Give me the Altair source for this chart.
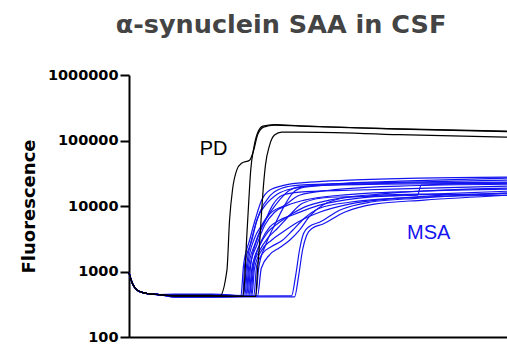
import altair as alt
import pandas as pd

# shared early decay (time, fluorescence)
base_t = [0, 0.5, 1, 2, 3, 5, 8]
base_f = [950, 760, 640, 530, 490, 460, 445]
# per-curve flat baseline level (read at t = 12..22)
pd_base = [432, 425, 420]
msa_base = [440, 425, 410, 445, 430, 415, 450, 420, 435, 405, 440, 425, 415, 445, 420, 410]
flat_t = [12, 22]

# PD curves (time, fluorescence) after baseline
pd_t = [
    [24.0, 25.9, 26.6, 27.4, 28.5, 29.8, 31.9, 33.0, 34.0, 35.6, 38.5, 45.1, 71.5, 100],
    [30.1, 30.6, 31.1, 31.7, 32.2, 33.0, 34.0, 35.4, 38.5, 45.1, 71.5, 100],
    [33.5, 34.0, 34.6, 35.1, 35.5, 36.1, 37.2, 38.5, 40.4, 45.1, 71.5, 100],
]
pd_f = [
    [420, 1040, 6060, 18000, 35300, 45100, 50100, 71300, 121000, 160300, 172000, 166000, 149300, 136800],
    [420, 733, 3000, 12300, 35300, 76500, 129800, 166000, 175000, 168000, 151000, 139000],
    [415, 1040, 3000, 8620, 18100, 42000, 85100, 121000, 134400, 134400, 123000, 112800],
]

# MSA curves
msa_t = [
    [29.6, 30.3, 31.9, 33.5, 35.1, 37.2, 41.2, 47.8, 58.3, 76.8, 100],
    [30.1, 30.6, 32.5, 34.0, 36.1, 39.3, 43.8, 53.0, 71.5, 100],
    [30.3, 31.1, 32.7, 34.6, 37.2, 40.4, 45.1, 60.9, 100],
    [30.6, 31.4, 33.2, 35.1, 37.2, 39.8, 42.5, 46.4, 66.2, 100],
    [30.9, 31.7, 33.2, 35.1, 37.2, 41.2, 45.1, 53.0, 71.5, 100],
    [31.1, 31.9, 33.8, 35.9, 38.5, 42.0, 46.4, 55.7, 76.8, 100],
    [31.4, 32.2, 34.0, 36.1, 38.0, 40.6, 45.1, 58.3, 79.4, 100],
    [31.7, 32.5, 34.6, 36.7, 39.8, 42.5, 46.4, 53.0, 66.2, 100],
    [31.9, 32.7, 34.6, 36.7, 39.3, 42.5, 45.9, 53.0, 76.3, 77.3, 100],
    [32.2, 33.0, 35.1, 37.2, 39.8, 43.8, 50.4, 60.9, 80.0, 100],
    [32.5, 33.2, 35.1, 37.7, 40.6, 44.6, 50.4, 58.3, 71.5, 100],
    [33.0, 33.8, 35.4, 37.7, 40.6, 43.3, 46.4, 50.4, 58.3, 71.5, 100],
    [33.5, 34.3, 36.1, 38.5, 41.2, 43.3, 46.4, 58.3, 100],
    [34.0, 35.0, 37.2, 39.8, 42.5, 45.1, 47.8, 51.2, 58.3, 76.8, 100],
    [43.0, 44.1, 45.1, 46.2, 47.8, 50.4, 55.7, 63.6, 76.8, 100],
    [43.8, 44.9, 45.9, 47.0, 48.5, 51.2, 57.0, 64.9, 78.1, 100],
]
msa_f = [
    [420, 1240, 3000, 6510, 12300, 17400, 20800, 23100, 24800, 26600, 27500],
    [420, 1240, 3000, 6510, 10300, 15200, 18700, 21500, 23900, 26600],
    [420, 1240, 3580, 8040, 14100, 18700, 20800, 22300, 24800],
    [420, 1240, 3220, 5090, 7760, 12300, 17400, 20100, 21500, 22300],
    [420, 1240, 2520, 4740, 7490, 10300, 14600, 17400, 20100, 21500],
    [420, 1120, 2520, 5090, 8040, 10300, 12300, 14600, 16800, 18100],
    [420, 1240, 3220, 6060, 10300, 14600, 16300, 17400, 18700, 20100],
    [420, 1120, 2520, 3980, 5650, 7230, 9600, 12300, 15200, 18700],
    [420, 1120, 2110, 3220, 4580, 7230, 11000, 13600, 14600, 20800, 22300],
    [420, 1240, 3000, 4740, 6060, 7490, 10300, 13200, 15200, 16800],
    [420, 1120, 2110, 3000, 3980, 5650, 8040, 10700, 13200, 15700],
    [420, 1240, 1900, 2400, 3000, 4270, 6510, 9250, 11400, 13200, 14600],
    [420, 1120, 2520, 5090, 10300, 15700, 19400, 21500, 23100],
    [420, 1120, 1800, 2300, 3000, 4270, 7000, 10300, 13600, 15200, 14600],
    [425, 875, 2110, 3840, 4910, 5650, 8620, 11400, 13200, 15700],
    [410, 875, 2110, 3580, 4580, 5270, 8040, 10700, 12300, 14600],
]

label_text = ["PD", "MSA"]
label_t = [22.4, 79.3]
label_f = [73900, 3910]
label_color = ["#000000", "#1414f0"]

y_ticks = [100, 1000, 10000, 100000, 1000000]

rows = []
for group, ts, fs, bl in (("PD", pd_t, pd_f, pd_base), ("MSA", msa_t, msa_f, msa_base)):
    for i, (t, f) in enumerate(zip(ts, fs)):
        xs = base_t + flat_t + t
        ys = base_f + [bl[i], bl[i]] + f
        for tt, ff in zip(xs, ys):
            rows.append({"group": group, "curve": f"{group}{i}", "t": tt, "f": ff})
df = pd.DataFrame(rows)
labels = pd.DataFrame({"text": label_text, "t": label_t, "f": label_f, "color": label_color})

x_enc = alt.X("t:Q", scale=alt.Scale(domain=[0, 100], nice=False),
              axis=alt.Axis(labels=False, ticks=False, title=None, grid=False,
                            domainWidth=2, domainColor="black"))
y_enc = alt.Y("f:Q", scale=alt.Scale(type="log", domain=[100, 1000000], nice=False),
              axis=alt.Axis(values=y_ticks, format="d", grid=False, title="Fluorescence",
                            domainWidth=2, domainColor="black", tickColor="black",
                            tickWidth=2, tickSize=9,
                            labelFont="DejaVu Sans", labelFontWeight="bold",
                            labelFontSize=14.5, labelColor="black", labelPadding=2,
                            titleFont="DejaVu Sans", titleFontWeight="bold",
                            titleFontSize=18, titleColor="black", titlePadding=9))

msa = alt.Chart(df[df.group == "MSA"]).mark_line(
    color="#1414f0", strokeWidth=1.2, interpolate="monotone"
).encode(x=x_enc, y=y_enc, detail="curve:N", order="t:Q")

pdl = alt.Chart(df[df.group == "PD"]).mark_line(
    color="black", strokeWidth=1.2, interpolate="monotone"
).encode(x="t:Q", y="f:Q", detail="curve:N", order="t:Q")

txt = alt.Chart(labels).mark_text(
    font="Liberation Sans", fontSize=20, align="center", baseline="middle"
).encode(x="t:Q", y="f:Q", text="text:N", color=alt.Color("color:N", scale=None))

chart = alt.layer(msa, pdl, txt).properties(
    width=378, height=262,
    autosize=alt.AutoSizeParams(type="none"),
    padding={"left": 129, "top": 75, "right": 0, "bottom": 7},
    title=alt.TitleParams("α-synuclein SAA in CSF", font="DejaVu Sans", fontSize=25.5,
                          fontWeight="bold", color="#444444", anchor="middle",
                          dx=-37, offset=29),
).configure_view(stroke=None)

chart.save("out.html", embed_options={"renderer": "svg", "actions": False})
